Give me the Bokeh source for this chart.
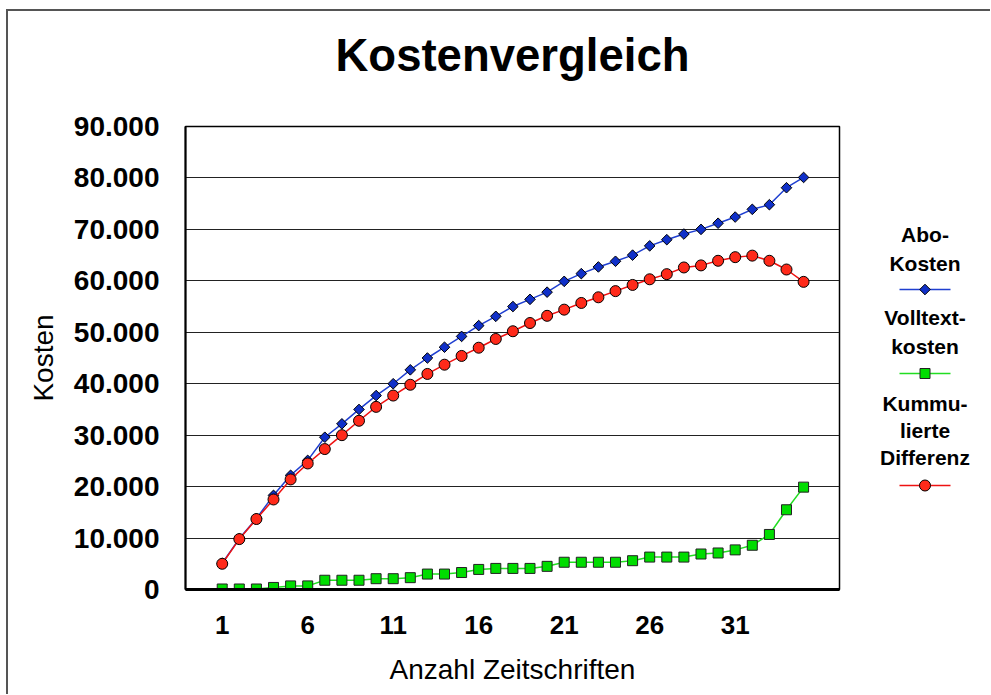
import math
from bokeh.plotting import figure
from bokeh.layouts import row
from bokeh.models import Range1d, FixedTicker, Title
from bokeh.core.properties import value
from bokeh.embed import file_html
from bokeh.resources import INLINE

# ---------------- data ----------------
x_values = list(range(1, 36))
abo_kosten = [5100, 9900, 13800, 18300, 22200, 25100, 29600, 32200, 35000, 37700,
              40000, 42700, 45000, 47100, 49200, 51300, 53100, 55000, 56400, 57800,
              59900, 61400, 62700, 63800, 65000, 66800, 68000, 69100, 70000, 71200,
              72400, 73900, 74800, 78100, 80100]
volltext_kosten = [100, 100, 100, 400, 700, 700, 1800, 1800, 1800, 2100,
                   2100, 2300, 3000, 3000, 3300, 3900, 4100, 4100, 4100, 4500,
                   5300, 5300, 5300, 5300, 5600, 6300, 6300, 6300, 6900, 7100,
                   7700, 8600, 10700, 15500, 19900]
kumm_differenz = [5000, 9800, 13700, 17500, 21400, 24500, 27300, 30000, 32800, 35500,
                  37700, 39800, 41900, 43700, 45400, 47000, 48700, 50200, 51800, 53200,
                  54400, 55700, 56800, 58000, 59200, 60300, 61300, 62600, 63000, 63900,
                  64600, 64900, 63900, 62200, 59800]
x_ticks = [1, 6, 11, 16, 21, 26, 31]
x_tick_labels = ["1", "6", "11", "16", "21", "26", "31"]
y_ticks = [0, 10000, 20000, 30000, 40000, 50000, 60000, 70000, 80000, 90000]
y_tick_labels = ["0", "10.000", "20.000", "30.000", "40.000", "50.000",
                 "60.000", "70.000", "80.000", "90.000"]
title_text = "Kostenvergleich"
x_title = "Anzahl Zeitschriften"
y_title = "Kosten"
legend_lines = [["Abo-", "Kosten"], ["Volltext-", "kosten"], ["Kummu-", "lierte", "Differenz"]]

FONT = "Liberation Sans"
H = 683
FRAME_TOP, FRAME_BOTTOM = 126, 589   # page pixels of the plot frame

# ---------------- main chart ----------------
p = figure(width=839, height=H,
           x_range=Range1d(-1.147, 37.1), y_range=Range1d(0, 90000),
           output_backend="svg", toolbar_location=None,
           min_border_left=177, min_border_right=8,
           min_border_top=115, min_border_bottom=105)
p.background_fill_color = "white"
p.border_fill_color = "white"
p.outline_line_color = "black"
p.outline_line_width = 1.5

# spacer between frame and title (pushes the title upward)
p.add_layout(Title(text=" ", text_font_size="2px", standoff=32), "above")
p.title.text = title_text
p.title.align = "center"
p.title.text_font = FONT
p.title.text_font_style = "bold"
p.title.text_font_size = "45.5px"
p.title.text_color = "black"
p.title.standoff = 20

p.xaxis.ticker = FixedTicker(ticks=x_ticks)
p.xaxis.major_label_overrides = {t: l for t, l in zip(x_ticks, x_tick_labels)}
p.yaxis.ticker = FixedTicker(ticks=y_ticks)
p.yaxis.major_label_overrides = {t: l for t, l in zip(y_ticks, y_tick_labels)}
for ax in (p.xaxis[0], p.yaxis[0]):
    ax.major_tick_in = 0
    ax.major_tick_out = 0
    ax.minor_tick_in = 0
    ax.minor_tick_out = 0
    ax.axis_line_color = "black"
    ax.major_label_text_font = FONT
    ax.major_label_text_font_style = "bold"
    ax.major_label_text_color = "black"
    ax.axis_label_text_font = FONT
    ax.axis_label_text_font_style = "normal"
    ax.axis_label_text_color = "black"
    ax.axis_label_text_font_size = "28px"
p.xaxis.axis_line_width = 3
p.yaxis.axis_line_width = 2
p.xaxis.major_label_text_font_size = "26px"
p.yaxis.major_label_text_font_size = "28px"
p.xaxis.major_label_standoff = 26
p.yaxis.major_label_standoff = 26
p.xaxis.axis_label = x_title
p.yaxis.axis_label = y_title
p.xaxis.axis_label_standoff = 17
p.yaxis.axis_label_standoff = 12

p.xgrid.grid_line_color = None
p.ygrid.grid_line_color = "#222222"
p.ygrid.grid_line_width = 1.2

BLUE_L, BLUE_F = "#1f3fd0", "#1030c8"
GREEN_L, GREEN_F = "#22dd22", "#00dd00"
RED_L, RED_F = "#ee1111", "#ff2a1a"

p.line(x_values, abo_kosten, line_color=BLUE_L, line_width=1.5)
p.scatter(x_values, abo_kosten, marker="square", angle=math.pi / 4, size=7.5,
          fill_color=BLUE_F, line_color="black", line_width=1)
p.line(x_values, volltext_kosten, line_color=GREEN_L, line_width=1.5)
p.scatter(x_values, volltext_kosten, marker="square", size=10,
          fill_color=GREEN_F, line_color="#222222", line_width=1)
p.line(x_values, kumm_differenz, line_color=RED_L, line_width=1.5)
p.scatter(x_values, kumm_differenz, marker="circle", size=11,
          fill_color=RED_F, line_color="black", line_width=1)

# ---------------- legend panel (page-pixel space, y downward) ----------------
LW = 143
q = figure(width=LW, height=H, x_range=Range1d(0, LW),
           y_range=Range1d(FRAME_BOTTOM, FRAME_TOP),
           output_backend="svg", toolbar_location=None,
           x_axis_type=None, y_axis_type=None, min_border=0)
q.outline_line_color = None
q.grid.visible = False
q.background_fill_color = "white"
q.border_fill_color = "white"

cx = 77.5
text_rows = [[234, 263], [317, 346], [403, 430, 457]]
glyph_rows = [289, 373, 485]
tx, ty, tt = [], [], []
for lines, ys in zip(legend_lines, text_rows):
    for t, yy in zip(lines, ys):
        tx.append(cx)
        ty.append(yy)
        tt.append(t)
q.text(x=tx, y=ty, text=tt, text_align="center", text_baseline="middle",
       text_font=value(FONT), text_font_style="bold", text_font_size="21px",
       text_color="black")

styles = [
    (BLUE_L, dict(marker="square", angle=math.pi / 4, size=7.5, fill_color=BLUE_F, line_color="black")),
    (GREEN_L, dict(marker="square", size=10, fill_color=GREEN_F, line_color="#222222")),
    (RED_L, dict(marker="circle", size=11, fill_color=RED_F, line_color="black")),
]
for gy, (lc, mk) in zip(glyph_rows, styles):
    q.line([cx - 25.5, cx + 25.5], [gy, gy], line_color=lc, line_width=1.5)
    q.scatter([cx], [gy], line_width=1, **mk)

layout = row(p, q, spacing=0)
layout.styles = {"margin-left": "6px", "margin-top": "9px",
                 "border-left": "2px solid #555", "border-top": "2px solid #555"}

open("out.html", "w").write(file_html(layout, INLINE))
